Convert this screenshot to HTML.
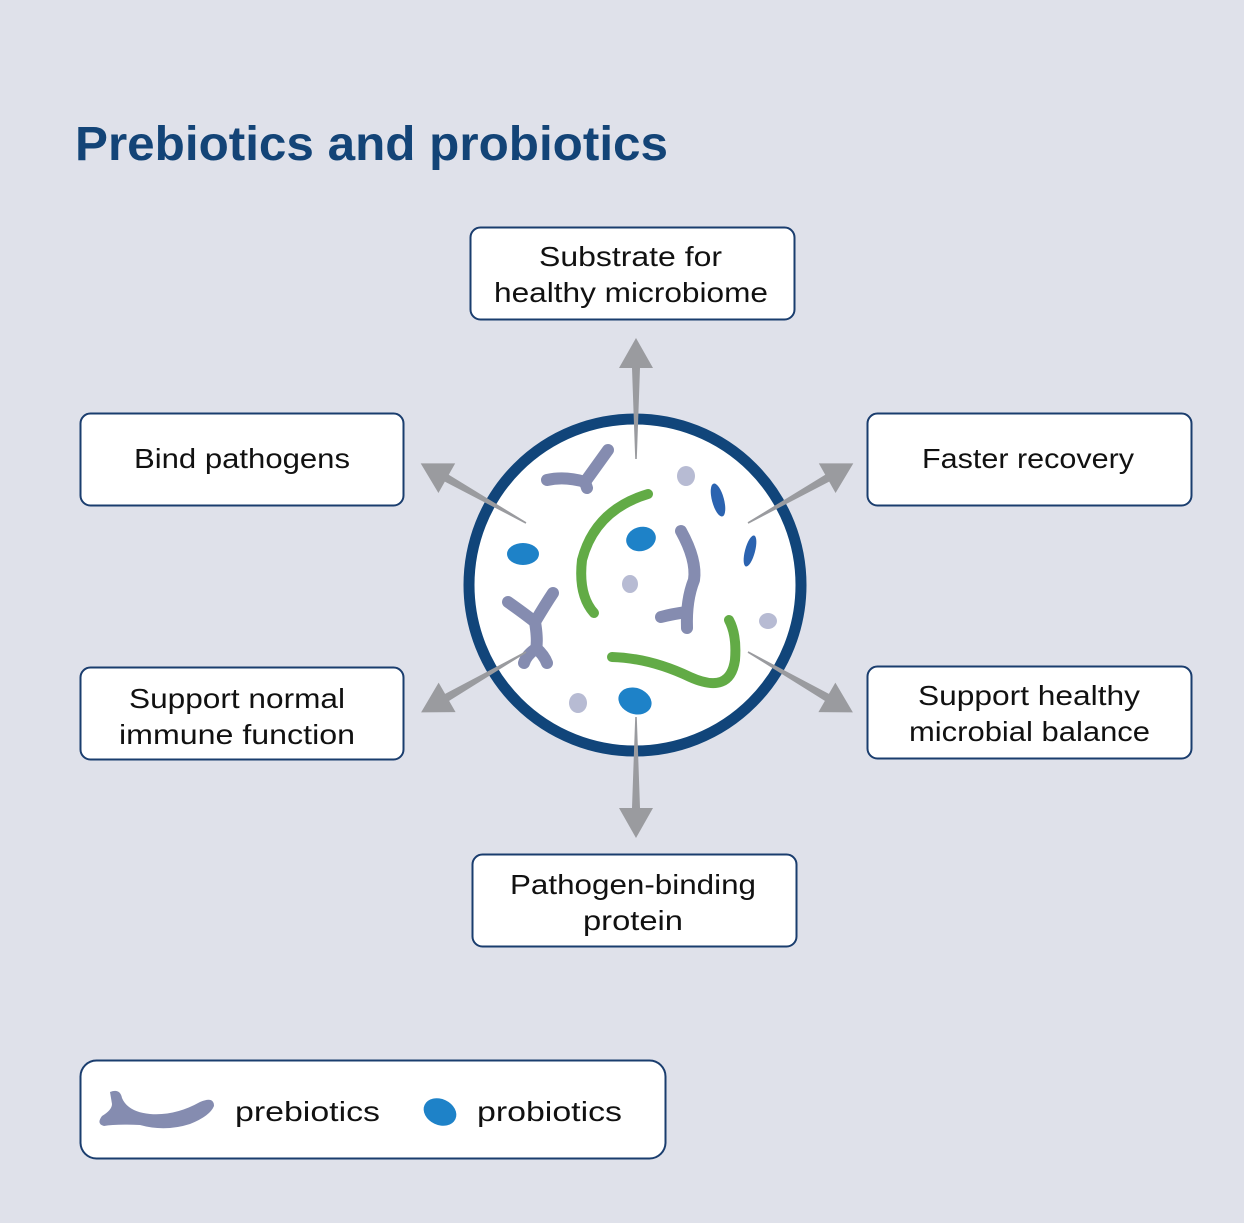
<!DOCTYPE html>
<html><head><meta charset="utf-8"><style>
html,body{margin:0;padding:0;background:#dfe1ea;}
svg{display:block}
text{font-family:"Liberation Sans",sans-serif;fill:#111;font-size:28px}
</style></head><body>
<svg width="1244" height="1223" viewBox="0 0 1244 1223" xmlns="http://www.w3.org/2000/svg">
<rect width="1244" height="1223" fill="#dfe1ea"/>
<text x="75" y="160" style="font-size:48px;font-weight:bold;fill:#134477" textLength="593" lengthAdjust="spacingAndGlyphs">Prebiotics and probiotics</text>

<g fill="#fff" stroke="#1a3d6e" stroke-width="2">
<rect x="470.5" y="227.5" width="324" height="92" rx="10"/>
<rect x="80.5" y="413.5" width="323" height="92" rx="10"/>
<rect x="867.5" y="413.5" width="324" height="92" rx="10"/>
<rect x="80.5" y="667.5" width="323" height="92" rx="10"/>
<rect x="867.5" y="666.5" width="324" height="92" rx="10"/>
<rect x="472.5" y="854.5" width="324" height="92" rx="10"/>
<rect x="80.5" y="1060.5" width="585" height="98" rx="16"/>
</g>

<text x="539" y="266" textLength="183" lengthAdjust="spacingAndGlyphs">Substrate for</text>
<text x="494" y="302" textLength="274" lengthAdjust="spacingAndGlyphs">healthy microbiome</text>
<text x="134" y="468" textLength="216" lengthAdjust="spacingAndGlyphs">Bind pathogens</text>
<text x="922" y="468" textLength="212" lengthAdjust="spacingAndGlyphs">Faster recovery</text>
<text x="129" y="708" textLength="216" lengthAdjust="spacingAndGlyphs">Support normal</text>
<text x="119" y="744" textLength="236" lengthAdjust="spacingAndGlyphs">immune function</text>
<text x="918" y="705" textLength="222" lengthAdjust="spacingAndGlyphs">Support healthy</text>
<text x="909" y="741" textLength="241" lengthAdjust="spacingAndGlyphs">microbial balance</text>
<text x="510" y="894" textLength="246" lengthAdjust="spacingAndGlyphs">Pathogen-binding</text>
<text x="583" y="930" textLength="100" lengthAdjust="spacingAndGlyphs">protein</text>
<text x="235" y="1121" textLength="145" lengthAdjust="spacingAndGlyphs">prebiotics</text>
<text x="477" y="1121" textLength="145" lengthAdjust="spacingAndGlyphs">probiotics</text>

<path d="M110,1092 Q120,1088 122,1098 Q128,1112 150,1114 Q175,1116 200,1102 Q214,1096 214,1106 Q210,1116 190,1124 Q165,1132 140,1125 Q115,1124 104,1126 Q96,1124 102,1116 Q112,1110 112,1104 Z" fill="#858cb0"/>
<ellipse cx="440" cy="1112" rx="17" ry="13" transform="rotate(25 440 1112)" fill="#1e82c8"/>

<circle cx="635" cy="585" r="166" fill="#fff" stroke="#11457a" stroke-width="11"/>

<g fill="none" stroke="#858cb0" stroke-width="12" stroke-linecap="round" stroke-linejoin="round">
<path d="M547,480 Q565,476 585,482 L608,450"/>
<path d="M585,482 L587,488"/>
<path d="M681,531 Q697,560 694,580 Q686,600 687,628"/>
<path d="M687,612 Q672,614 661,617"/>
<path d="M508,602 Q525,614 535,622 Q545,605 553,593"/>
<path d="M535,622 Q538,640 536,650"/>
<path d="M536,648 Q544,655 547,663"/>
<path d="M534,650 Q526,656 524,663"/>
</g>
<g fill="none" stroke="#62ab46" stroke-linecap="round">
<path d="M648,494 Q595,510 582,560 Q578,595 594,613" stroke-width="10"/>
<path d="M612,657 Q650,658 690,677 Q730,695 735,660 Q737,635 729,620" stroke-width="10"/>
</g>
<g fill="#b7bbd3">
<ellipse cx="686" cy="476" rx="9" ry="10"/>
<ellipse cx="630" cy="584" rx="8" ry="9"/>
<ellipse cx="578" cy="703" rx="9" ry="10"/>
<ellipse cx="768" cy="621" rx="9" ry="8"/>
</g>
<g fill="#1e82c8">
<ellipse cx="523" cy="554" rx="16" ry="11"/>
<ellipse cx="641" cy="539" rx="15" ry="12" transform="rotate(-15 641 539)"/>
<ellipse cx="635" cy="701" rx="17" ry="13" transform="rotate(20 635 701)"/>
</g>
<g fill="#2b63b0">
<ellipse cx="718" cy="500" rx="6" ry="17" transform="rotate(-15 718 500)"/>
<ellipse cx="750" cy="551" rx="5" ry="16" transform="rotate(15 750 551)"/>
</g>

<g fill="#9a9b9f">
<defs><polygon id="ar" points="-0.8,0 -4,-91 -17,-91 0,-121 17,-91 4,-91 0.8,0"/></defs>
<use href="#ar" transform="translate(636,459)"/>
<use href="#ar" transform="translate(526,523) rotate(-60.5)"/>
<use href="#ar" transform="translate(748,523) rotate(60.5)"/>
<use href="#ar" transform="translate(526,652) rotate(-119.9)"/>
<use href="#ar" transform="translate(748,652) rotate(119.9)"/>
<use href="#ar" transform="translate(636,717) rotate(180)"/>
</g>
</svg>
</body></html>
